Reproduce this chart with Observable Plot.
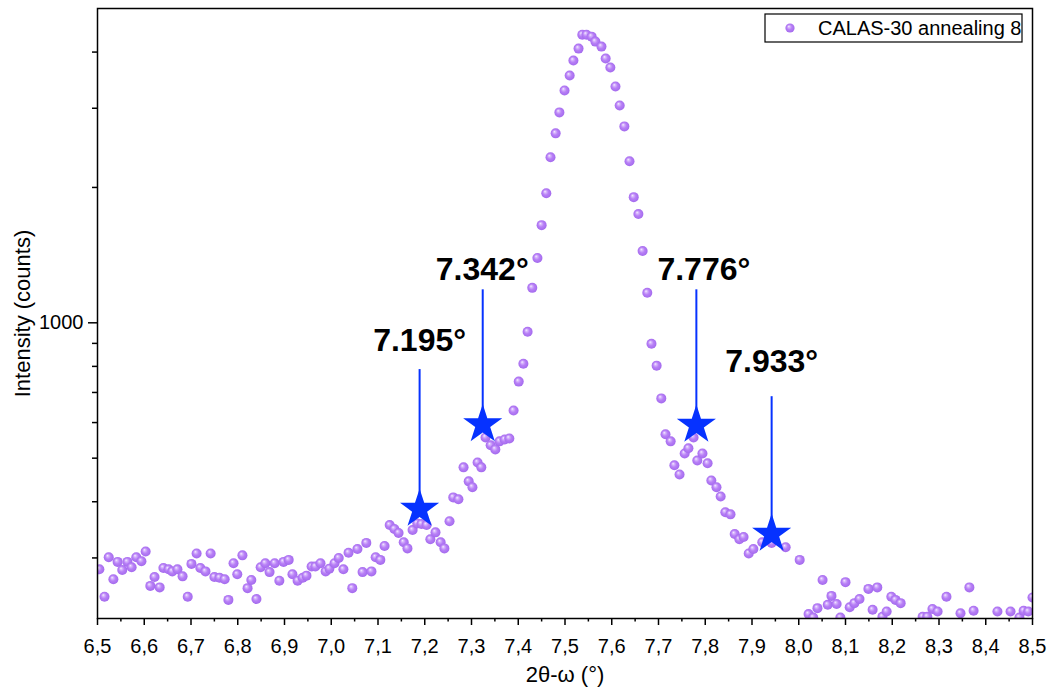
<!DOCTYPE html>
<html>
<head>
<meta charset="utf-8">
<script src="https://cdn.jsdelivr.net/npm/d3@7"></script>
<script src="https://cdn.jsdelivr.net/npm/@observablehq/plot@0.6"></script>
<style>
  html, body { margin: 0; padding: 0; background: #fff; overflow: hidden; }
  #chart { position: relative; width: 1048px; height: 693px; }
</style>
</head>
<body>
<div id="chart"></div>
<script>
// ---- data ----
const twoTheta = [
  6.504, 6.515, 6.524, 6.534, 6.543, 6.553, 6.564, 6.573, 6.583, 6.594,
  6.603, 6.613, 6.622, 6.633, 6.641, 6.652, 6.660, 6.671, 6.682, 6.693,
  6.701, 6.712, 6.720, 6.731, 6.742, 6.750, 6.761, 6.772, 6.780, 6.791,
  6.799, 6.810, 6.821, 6.829, 6.840, 6.849, 6.859, 6.868, 6.879, 6.889,
  6.898, 6.909, 6.917, 6.928, 6.939, 6.947, 6.958, 6.966, 6.977, 6.988,
  6.996, 7.007, 7.016, 7.026, 7.037, 7.045, 7.056, 7.067, 7.075, 7.086,
  7.095, 7.105, 7.114, 7.125, 7.135, 7.144, 7.155, 7.163, 7.174, 7.184,
  7.193, 7.204, 7.212, 7.223, 7.234, 7.242, 7.253, 7.261, 7.272, 7.283,
  7.294, 7.302, 7.313, 7.321, 7.330, 7.341, 7.351, 7.360, 7.371, 7.381,
  7.390, 7.401, 7.411, 7.420, 7.430, 7.441, 7.450, 7.460, 7.469, 7.480,
  7.488, 7.499, 7.510, 7.518, 7.529, 7.537, 7.546, 7.557, 7.565, 7.578,
  7.587, 7.597, 7.608, 7.617, 7.627, 7.638, 7.647, 7.657, 7.666, 7.676,
  7.685, 7.696, 7.706, 7.715, 7.726, 7.734, 7.745, 7.756, 7.764, 7.775,
  7.783, 7.794, 7.805, 7.813, 7.824, 7.833, 7.843, 7.854, 7.863, 7.873,
  7.882, 7.893, 7.903, 7.922, 7.942, 7.972, 8.002, 8.021, 8.031, 8.040,
  8.051, 8.062, 8.070, 8.081, 8.089, 8.100, 8.109, 8.119, 8.130, 8.149,
  8.158, 8.168, 8.179, 8.188, 8.198, 8.207, 8.218, 8.265, 8.275, 8.286,
  8.297, 8.316, 8.346, 8.365, 8.374, 8.425, 8.453, 8.472, 8.481, 8.491,
  8.500
];
const intensity = [
  283, 246, 301, 269, 294, 282, 294, 286, 301, 295,
  310, 260, 272, 258, 285, 283, 280, 283, 273, 246,
  291, 307, 285, 280, 307, 272, 271, 269, 242, 292,
  276, 304, 257, 268, 243, 286, 292, 279, 292, 267,
  294, 297, 276, 267, 271, 274, 287, 287, 292, 280,
  284, 292, 300, 283, 308, 257, 314, 279, 324, 280,
  301, 297, 319, 355, 348, 341, 325, 315, 346, 358,
  357, 355, 330, 342, 325, 315, 362, 409, 405, 477,
  444, 431, 489, 477, 556, 534, 523, 545, 550, 553,
  638, 740, 811, 955, 1196, 1394, 1649, 1942, 2334, 2638,
  2937, 3286, 3548, 3830, 4072, 4373, 4373, 4329, 4220, 4114,
  3870, 3695, 3354, 3044, 2734, 2287, 1903, 1745, 1444, 1166,
  898, 803, 679, 565, 545, 482, 460, 512, 526, 556,
  494, 512, 487, 446, 431, 411, 379, 375, 339, 330,
  334, 307, 314, 325, 324, 317, 297, 225, 221, 232,
  268, 236, 247, 237, 221, 265, 233, 238, 243, 256,
  230, 258, 222, 228, 246, 242, 238, 222, 222, 231,
  228, 246, 226, 258, 229, 228, 228, 221, 229, 228,
  245
];

// peak annotations
const peakLabels = ["7.195°", "7.342°", "7.776°", "7.933°"];
const starTheta = [7.189, 7.324, 7.781, 7.942];
const starIntensity = [385, 594, 592, 339];
const lineTopIntensity = [787, 1184, 1184, 685];
const labelTheta = [7.189, 7.323, 7.797, 7.942];
const labelIntensity = [912, 1311, 1311, 820];

// axes
const xTickValues = [6.5, 6.6, 6.7, 6.8, 6.9, 7.0, 7.1, 7.2, 7.3, 7.4, 7.5, 7.6, 7.7, 7.8, 7.9, 8.0, 8.1, 8.2, 8.3, 8.4, 8.5];
const xMinorTicks = [6.55, 6.65, 6.75, 6.85, 6.95, 7.05, 7.15, 7.25, 7.35, 7.45, 7.55, 7.65, 7.75, 7.85, 7.95, 8.05, 8.15, 8.25, 8.35, 8.45];
const yTickValues = [1000];
const yMinorTicks = [300, 400, 500, 600, 700, 800, 900, 2000, 3000, 4000];
const xDomain = [6.5, 8.5];
const yDomain = [220, 5000];
const seriesName = "CALAS-30 annealing 8";
const xTitle = "2θ-ω (°)";
const yTitle = "Intensity (counts)";

// ---- build ----
const points = twoTheta.map((t, i) => ({t, v: intensity[i]}));
const peaks = peakLabels.map((label, i) => ({
  label, st: starTheta[i], sv: starIntensity[i], top: lineTopIntensity[i],
  lt: labelTheta[i], lv: labelIntensity[i]
}));

const BLUE = "#0632ff";
const FONT = "'Liberation Sans', Arial, Helvetica, sans-serif";

const svg = Plot.plot({
  width: 1048,
  height: 693,
  marginLeft: 97,
  marginRight: 16,
  marginTop: 8,
  marginBottom: 75,
  style: {fontFamily: FONT, fontSize: "20px", color: "black", background: "white"},
  x: {domain: xDomain, label: null},
  y: {type: "log", domain: yDomain, label: null},
  marks: [
    Plot.dot(points, {x: "t", y: "v", r: 5, fill: "url(#ball)", stroke: "none", clip: true}),
    Plot.ruleX(peaks, {x: "st", y1: "sv", y2: "top", stroke: BLUE, strokeWidth: 2}),
    Plot.dot(peaks, {x: "st", y: "sv", symbol: "star", r: 12.3, fill: BLUE, stroke: "none"}),
    Plot.text(peaks, {x: "lt", y: "lv", text: "label", fontSize: 32, fontWeight: "bold", fill: "black"}),
    Plot.axisX({ticks: xMinorTicks, tickSize: 3.5, tickFormat: () => "", strokeWidth: 1.5}),
    Plot.axisX({ticks: xTickValues, tickSize: 7, tickPadding: 13, strokeWidth: 1.5, fontSize: 20,
      tickFormat: d => d.toFixed(1).replace(".", ",")}),
    Plot.axisY({ticks: yMinorTicks, tickSize: 5, tickFormat: () => "", strokeWidth: 1.5}),
    Plot.axisY({ticks: yTickValues, tickSize: 9, tickPadding: 5, strokeWidth: 1.5, fontSize: 20,
      tickFormat: d => String(d)}),
    Plot.frame({stroke: "black", strokeWidth: 1.5}),
    Plot.text([yTitle], {frameAnchor: "left", dx: -75, rotate: -90, textAnchor: "middle", fontSize: 22, fill: "black"}),
    Plot.text([xTitle], {frameAnchor: "bottom", dy: 63, textAnchor: "middle", fontSize: 22, fill: "black"})
  ]
});

// sphere-like gradient for the points
const s = d3.select(svg);
const defs = s.insert("defs", ":first-child");
const g = defs.append("radialGradient").attr("id", "ball")
  .attr("cx", "0.5").attr("cy", "0.5").attr("r", "0.55")
  .attr("fx", "0.36").attr("fy", "0.32");
g.append("stop").attr("offset", "0%").attr("stop-color", "#f8f2ff");
g.append("stop").attr("offset", "20%").attr("stop-color", "#d8b8fc");
g.append("stop").attr("offset", "50%").attr("stop-color", "#b880f6");
g.append("stop").attr("offset", "100%").attr("stop-color", "#a066ec");

// legend box (top-right inside the frame)
const lg = s.append("g").attr("class", "legend");
lg.append("rect").attr("x", 765).attr("y", 14).attr("width", 257).attr("height", 28)
  .attr("fill", "white").attr("stroke", "black").attr("stroke-width", 1.2);
lg.append("circle").attr("cx", 790).attr("cy", 28).attr("r", 4.6).attr("fill", "url(#ball)");
lg.append("text").attr("x", 818).attr("y", 28).attr("dy", "0.35em")
  .attr("text-anchor", "start")
  .attr("font-size", 20).attr("fill", "black").attr("font-family", FONT).text(seriesName);

document.getElementById("chart").appendChild(svg);
</script>
</body>
</html>
